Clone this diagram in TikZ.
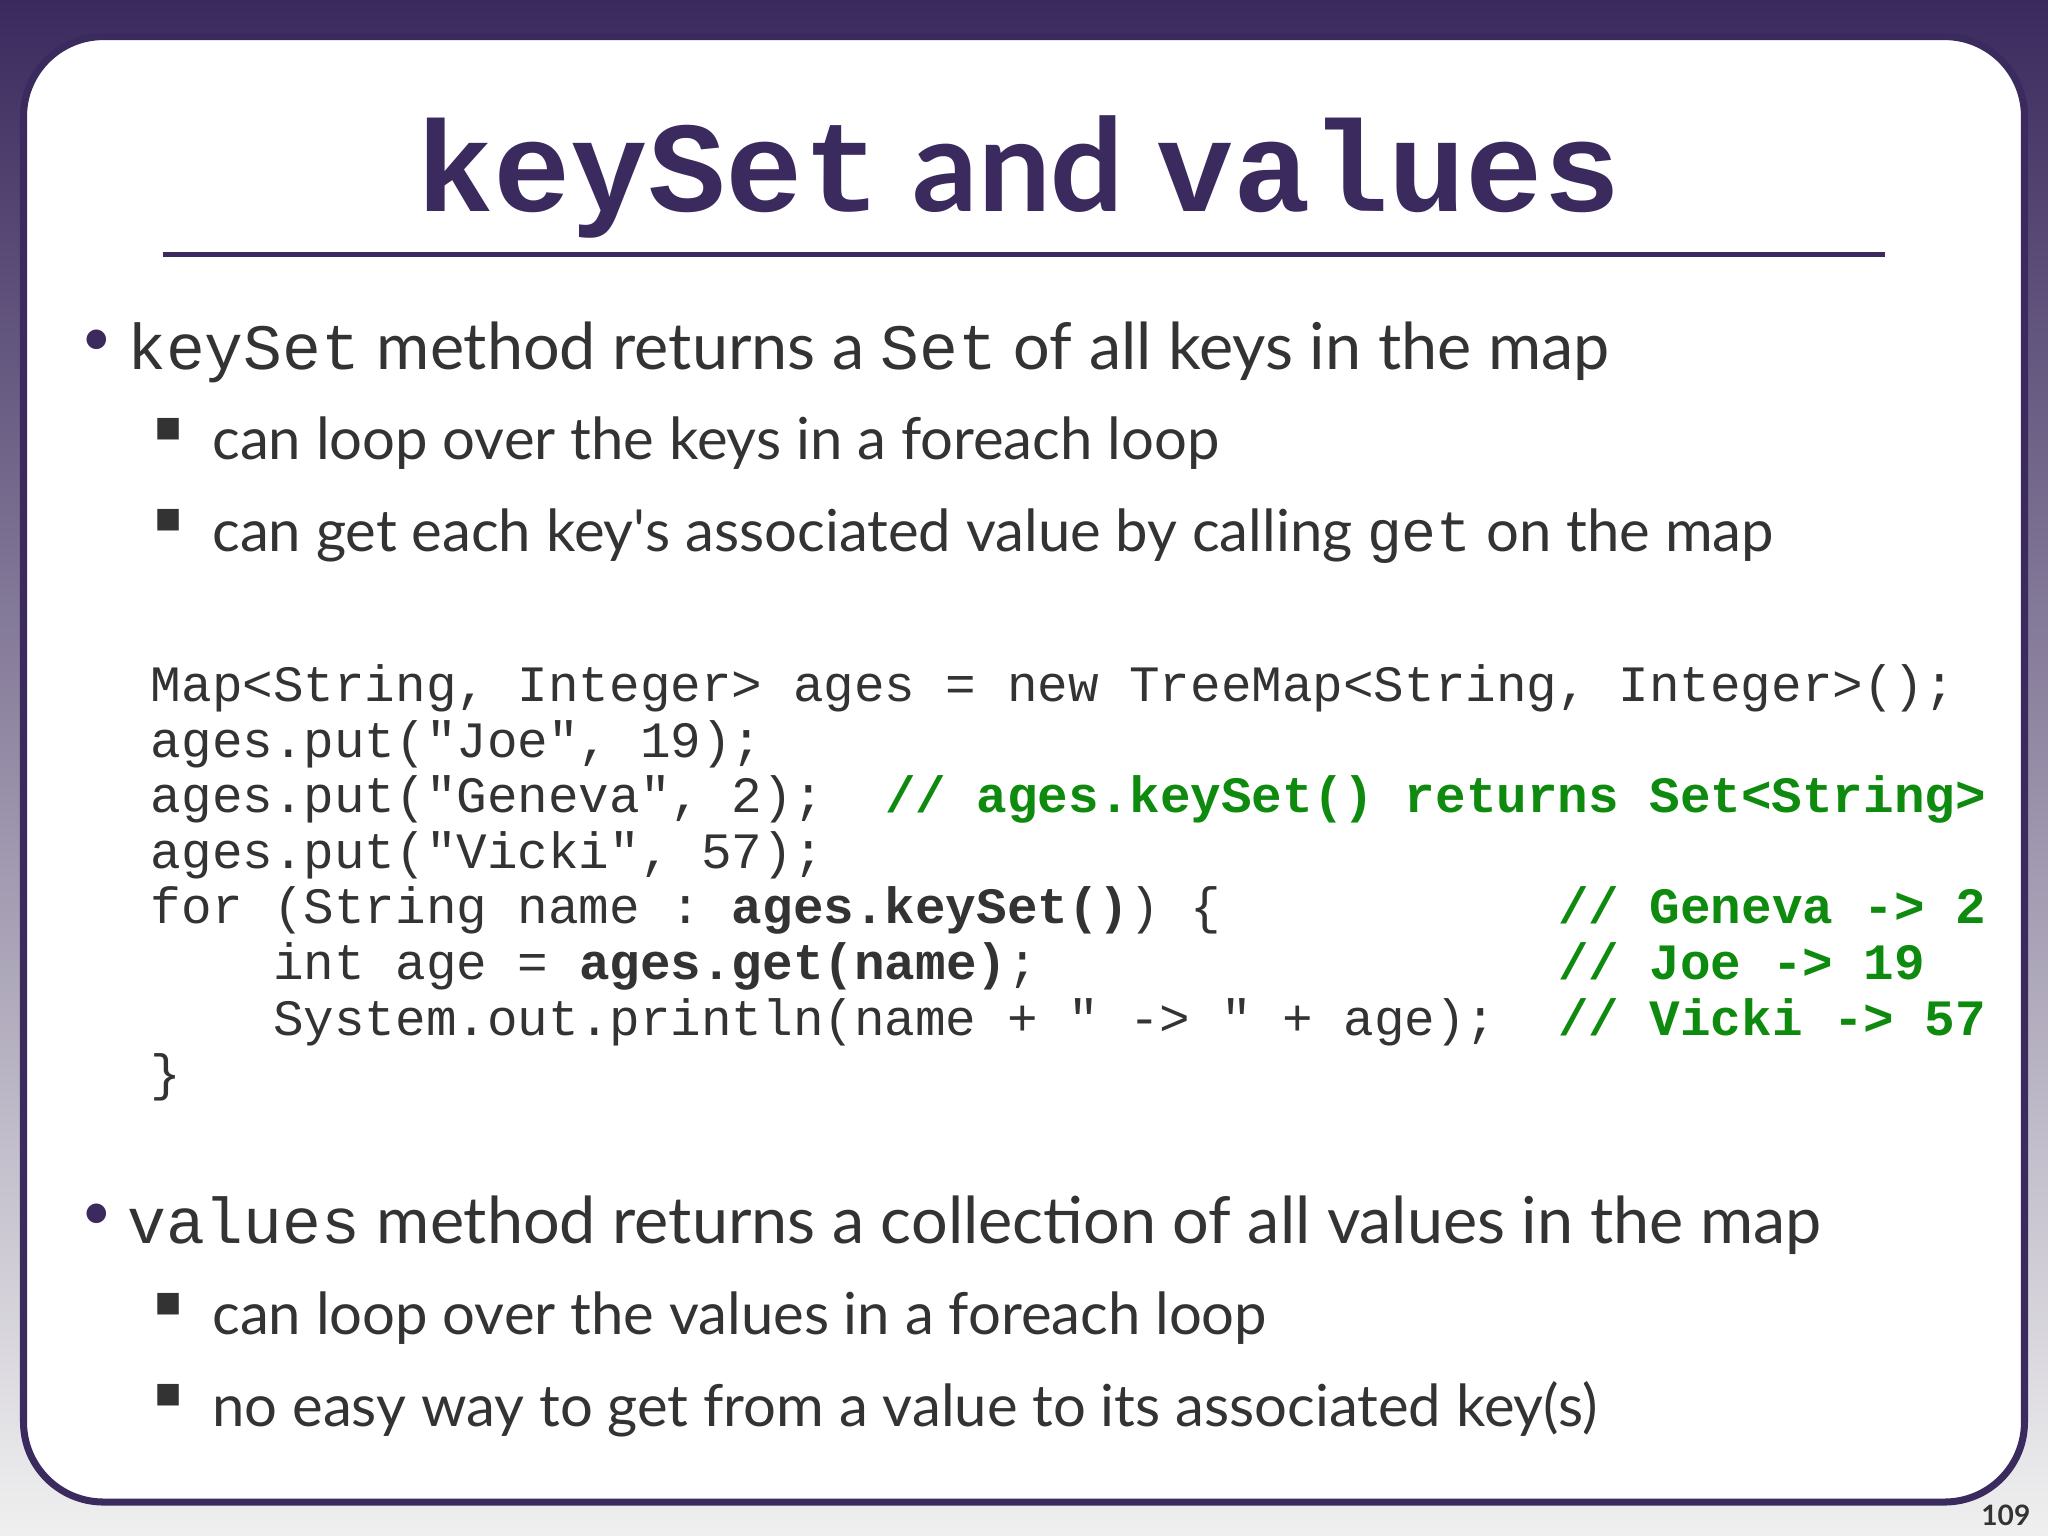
\documentclass[tikz,border=0pt]{standalone}
\usepackage{fontspec}
\setmainfont{Lato}
\setmonofont{Liberation Mono}
\newfontfamily\symfont{DejaVu Sans}
\newfontfamily\plainlato{Lato}
\usetikzlibrary{positioning}
\definecolor{slidepurple}{HTML}{3B2A5E}
\definecolor{bodygray}{HTML}{333333}
\definecolor{codegreen}{HTML}{0E8A0E}
\tikzset{
  bodytext/.style={anchor=base west, inner sep=0pt, text=bodygray},
  square/.style={anchor=base west, inner sep=0pt, text=bodygray, font=\symfont\fontsize{8}{10}\selectfont},
  codetext/.style={anchor=base west, inner sep=0pt, text=bodygray, font=\ttfamily\fontsize{14.5}{16}\selectfont},
  comment/.style={codetext, text=codegreen, font=\ttfamily\bfseries\fontsize{14.5}{16}\selectfont}
}
\newcommand{\cx}[1]{115+#1*23.42}
\begin{document}
\begin{tikzpicture}[x=0.01306cm, y=-0.01306cm]
% Hintergrund
\shade[top color=slidepurple, bottom color=gray!12] (0,0) rectangle (1568,1176);
\useasboundingbox (0,0) rectangle (1568,1176);
\draw[slidepurple, line width=2pt, fill=white, rounded corners=0.8cm] (18,28) rectangle (1550,1150);

% Titel
\node[anchor=base west, inner sep=0pt, text=slidepurple] (title) at (318,162)
  {\fontsize{36.7}{38}\selectfont\bfseries{\ttfamily keySet}\hspace{0.25em}and\hspace{0.25em}{\ttfamily values}};
\draw[slidepurple, line width=1.5pt] (125,195) -- (1443,195);

% Aufzaehlung oben
\node[anchor=base west, inner sep=0pt, text=slidepurple, font=\fontsize{15}{17}\selectfont] (dotA) at (62,272) {•};
\node[bodytext, font=\fontsize{18.4}{20}\selectfont] (itemA) at (97,283)
  {{\ttfamily keySet} method returns a {\ttfamily Set} of all keys in the map};
\node[square] (sqA) at (118,334) {■};
\node[bodytext, font=\fontsize{16.5}{18}\selectfont] (subA) at (162,352)
  {can loop over the keys in a foreach loop};
\node[square] (sqB) at (118,404) {■};
\node[bodytext, font=\fontsize{16.5}{18}\selectfont] (subB) at (162,422)
  {can get each key{\plainlato'}s associated value by calling {\ttfamily get} on the map};

% Code
\node[codetext] (codeA) at ({\cx{0}},537) {Map<String, Integer> ages = new TreeMap<String, Integer>();};
\node[codetext] (codeB) at ({\cx{0}},580) {ages.put("Joe", 19);};
\node[codetext] (codeC) at ({\cx{0}},622) {ages.put("Geneva", 2);};
\node[comment]  (noteC) at ({\cx{24}},622) {// ages.keySet() returns Set<String>};
\node[codetext] (codeD) at ({\cx{0}},665) {ages.put("Vicki", 57);};
\node[codetext] (codeE) at ({\cx{0}},707) {for (String name : \textbf{ages.keySet()}) \{};
\node[comment]  (noteE) at ({\cx{46}},707) {// Geneva -> 2};
\node[codetext] (codeF) at ({\cx{4}},750) {int age = \textbf{ages.get(name)};};
\node[comment]  (noteF) at ({\cx{46}},750) {// Joe -> 19};
\node[codetext] (codeG) at ({\cx{4}},793) {System.out.println(name + " -> " + age);};
\node[comment]  (noteG) at ({\cx{46}},793) {// Vicki -> 57};
\node[codetext] (codeH) at ({\cx{0}},835) {\}};

% Aufzaehlung unten
\node[anchor=base west, inner sep=0pt, text=slidepurple, font=\fontsize{15}{17}\selectfont] (dotB) at (62,941) {•};
\node[bodytext, font=\fontsize{18.4}{20}\selectfont] (itemB) at (97,952)
  {{\ttfamily values} method returns a collection of all values in the map};
\node[square] (sqC) at (118,1004) {■};
\node[bodytext, font=\fontsize{16.5}{18}\selectfont] (subC) at (162,1022)
  {can loop over the values in a foreach loop};
\node[square] (sqD) at (118,1074) {■};
\node[bodytext, font=\fontsize{16.5}{18}\selectfont] (subD) at (162,1092)
  {no easy way to get from a value to its associated key(s)};

% Seitenzahl
\node[anchor=base east, inner sep=0pt, text=bodygray, font=\bfseries\fontsize{8}{9}\selectfont] (page) at (1555,1168) {109};
\end{tikzpicture}
\end{document}
